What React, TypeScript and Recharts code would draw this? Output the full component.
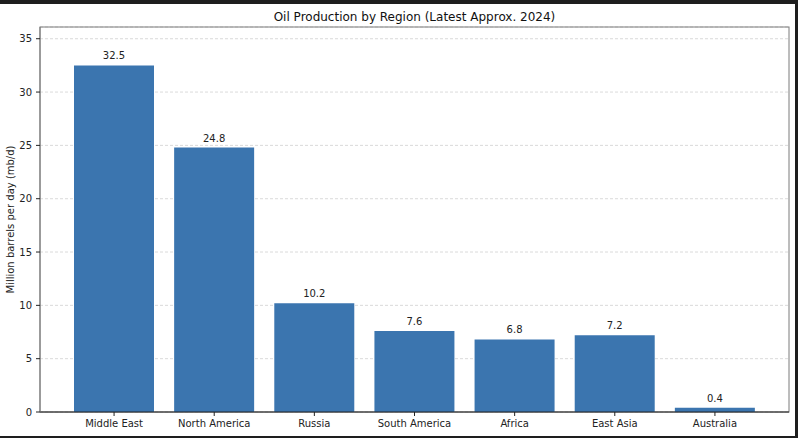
import React from "react";
import { BarChart, Bar, XAxis, YAxis, CartesianGrid, LabelList, usePlotArea } from "recharts";

const regions = ["Middle East", "North America", "Russia", "South America", "Africa", "East Asia", "Australia"];
const production = [32.5, 24.8, 10.2, 7.6, 6.8, 7.2, 0.4];
const yTicks = [0, 5, 10, 15, 20, 25, 30, 35];
const yMax = 36.1;
const title = "Oil Production by Region (Latest Approx. 2024)";
const yLabel = "Million barrels per day (mb/d)";

const data = regions.map((r, i) => ({ region: r, value: production[i] }));

const FONT = "'DejaVu Sans', sans-serif";
const BAR = "#3b75af";

const YLabel = (props: any) => {
  const vb = props.viewBox || {};
  const cy = vb.y + vb.height / 2;
  const cx = 10.5;
  return (
    <text
      x={cx}
      y={cy}
      transform={`rotate(-90, ${cx}, ${cy})`}
      textAnchor="middle"
      dominantBaseline="central"
      fontSize={10}
      fontFamily={FONT}
      fill="#222"
    >
      {yLabel}
    </text>
  );
};

function Frame() {
  const pa = usePlotArea();
  if (!pa) return null;
  return (
    <rect
      x={pa.x}
      y={pa.y}
      width={pa.width}
      height={pa.height}
      fill="none"
      stroke="#7a7a7a"
      strokeWidth={1}
    />
  );
}

export default function App() {
  return (
    <div style={{ position: "fixed", left: 0, top: 0, width: 798, height: 438, background: "#1e1e1e" }}>
      <div style={{ position: "absolute", left: 0, top: 4, width: 795, height: 432, background: "#fff" }}>
        <div
          style={{
            position: "absolute",
            left: 40,
            width: 749,
            top: 5,
            textAlign: "center",
            fontFamily: FONT,
            fontSize: 12,
            lineHeight: "16px",
            color: "#111",
          }}
        >
          {title}
        </div>
        <BarChart
          width={795}
          height={432}
          data={data}
          margin={{ top: 23, right: 6, bottom: 0, left: 0 }}
          style={{ position: "absolute", left: 0, top: 0 }}
        >
          <CartesianGrid vertical={false} stroke="#d0d0d0" strokeDasharray="3 2" strokeWidth={0.8} />
          <Frame />
          <XAxis
            dataKey="region"
            height={24}
            interval={0}
            padding={{ left: 24, right: 24 }}
            tickSize={4}
            tickMargin={4}
            axisLine={{ stroke: "#222" }}
            tickLine={{ stroke: "#222" }}
            tick={{ fontSize: 10, fontFamily: FONT, fill: "#222" }}
          />
          <YAxis
            width={40}
            domain={[0, yMax]}
            ticks={yTicks}
            interval={0}
            tickSize={4}
            tickMargin={4}
            axisLine={{ stroke: "#7a7a7a" }}
            tickLine={{ stroke: "#222" }}
            tick={{ fontSize: 10, fontFamily: FONT, fill: "#222" }}
            label={{ content: YLabel }}
          />
          <Bar dataKey="value" fill={BAR} barSize={80} isAnimationActive={false}>
            <LabelList
              dataKey="value"
              position="top"
              offset={6}
              style={{ fontSize: 10, fontFamily: FONT, fill: "#222" }}
              formatter={(v: any) => Number(v).toFixed(1)}
            />
          </Bar>
        </BarChart>
      </div>
    </div>
  );
}
